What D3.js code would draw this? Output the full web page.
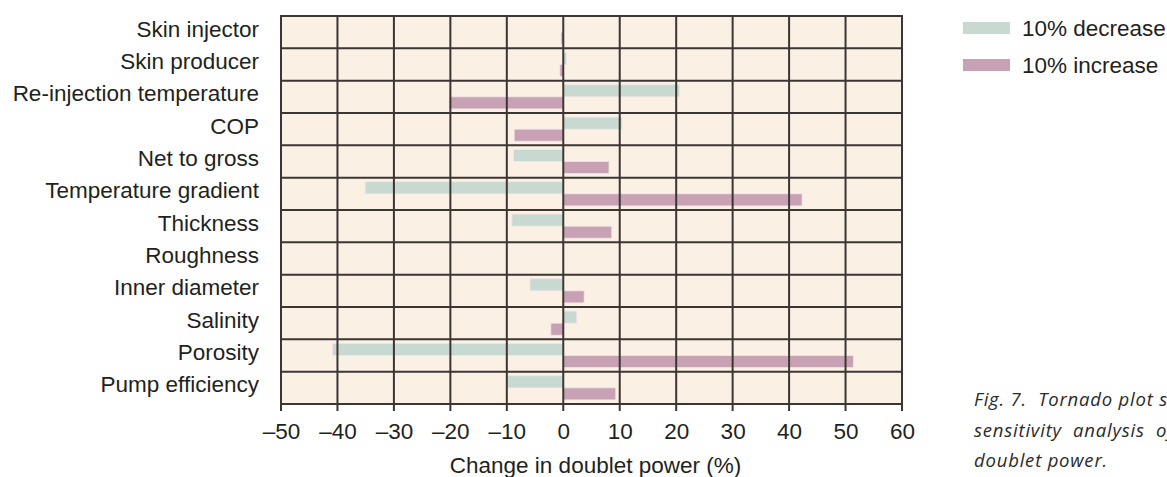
<!DOCTYPE html>
<html>
<head>
<meta charset="utf-8">
<script src="https://cdn.jsdelivr.net/npm/d3@7"></script>
<style>
  html, body { margin: 0; padding: 0; background: #ffffff; overflow: hidden; }
  svg { display: block; }
</style>
</head>
<body>
<svg id="chart" width="1167" height="477"></svg>
<script>
// ---- data ----
const categories = ["Skin injector", "Skin producer", "Re-injection temperature", "COP",
  "Net to gross", "Temperature gradient", "Thickness", "Roughness",
  "Inner diameter", "Salinity", "Porosity", "Pump efficiency"];
const decrease10 = [0, 0.6, 20.6, 10.4, -8.8, -35.1, -9.1, 0, -5.9, 2.4, -40.9, -9.9];
const increase10 = [-0.4, -0.6, -20.2, -8.7, 8.1, 42.3, 8.6, 0, 3.7, -2.2, 51.4, 9.3];
const seriesNames = ["10% decrease", "10% increase"];
const xTicks = [-50, -40, -30, -20, -10, 0, 10, 20, 30, 40, 50, 60];
const captionLines = ["Fig. 7.  Tornado plot showing the", "sensitivity  analysis  of  the", "doublet power."];

// ---- layout ----
const colors = { "10% decrease": "#c8d9d2", "10% increase": "#c9a1b5" };
const plot = { left: 281, right: 902, top: 16, bottom: 404 };
const textColor = "#231f20";
const gridColor = "#3b3634";
const font = "'Liberation Sans', Arial, sans-serif";

const svg = d3.select("#chart");

const x = d3.scaleLinear().domain([-50, 60]).range([plot.left, plot.right]);
const y = d3.scaleBand().domain(categories).range([plot.top, plot.bottom]).padding(0);
const ySub = d3.scaleBand().domain(seriesNames).range([0, y.bandwidth()]).paddingInner(0).paddingOuter(0.34);

// background
svg.append("rect")
  .attr("x", plot.left).attr("y", plot.top)
  .attr("width", plot.right - plot.left).attr("height", plot.bottom - plot.top)
  .attr("fill", "#fbf0e4");

// bars
const rows = categories.map((c, i) => ({ cat: c, vals: [decrease10[i], increase10[i]] }));
const g = svg.append("g");
rows.forEach(r => {
  r.vals.forEach((v, j) => {
    if (v === 0) return;
    const s = seriesNames[j];
    g.append("rect")
      .attr("x", Math.min(x(0), x(v)))
      .attr("y", y(r.cat) + ySub(s))
      .attr("width", Math.abs(x(v) - x(0)))
      .attr("height", ySub.bandwidth())
      .attr("fill", colors[s])
      .attr("stroke", "#f3e4e6")
      .attr("stroke-width", 0.8);
  });
});

// vertical grid lines
svg.append("g").selectAll("line").data(xTicks).join("line")
  .attr("x1", d => x(d)).attr("x2", d => x(d))
  .attr("y1", plot.top).attr("y2", plot.bottom + 7)
  .attr("stroke", gridColor).attr("stroke-width", 2);

// horizontal grid lines (row boundaries)
const rowEdges = categories.map(c => y(c)).concat([plot.bottom]);
svg.append("g").selectAll("line").data(rowEdges).join("line")
  .attr("x1", plot.left - 1).attr("x2", plot.right + 1)
  .attr("y1", d => d).attr("y2", d => d)
  .attr("stroke", gridColor).attr("stroke-width", 2);

// x axis tick labels via d3 axis
const xAxis = d3.axisBottom(x).tickValues(xTicks).tickSize(0).tickPadding(0)
  .tickFormat(d => (d < 0 ? "\u2013" + Math.abs(d) : String(d)));
const ax = svg.append("g").attr("transform", `translate(0, ${plot.bottom})`).call(xAxis);
ax.select(".domain").remove();
ax.selectAll("text")
  .attr("dy", null).attr("y", 35)
  .attr("font-family", font)
  .attr("font-size", 22.5).attr("fill", textColor);

// axis title
svg.append("text")
  .attr("x", (x(-50) + x(60)) / 2 + 4).attr("y", 473)
  .attr("text-anchor", "middle")
  .attr("font-family", font)
  .attr("font-size", 22.5).attr("fill", textColor)
  .text("Change in doublet power (%)");

// category labels
svg.append("g").selectAll("text").data(categories).join("text")
  .attr("x", 259).attr("y", d => y(d) + y.bandwidth() / 2 + 4.5)
  .attr("text-anchor", "end")
  .attr("font-family", font)
  .attr("font-size", 22.5).attr("fill", textColor)
  .text(d => d);

// legend
const leg = svg.append("g");
seriesNames.forEach((s, i) => {
  leg.append("rect").attr("x", 963).attr("y", 22 + i * 37).attr("width", 47).attr("height", 12)
    .attr("fill", colors[s]);
  leg.append("text").attr("x", 1022).attr("y", 36 + i * 37)
    .attr("font-family", font)
    .attr("font-size", 22.5).attr("fill", textColor).text(s);
});

// caption
svg.append("g").selectAll("text").data(captionLines).join("text")
  .attr("x", 974).attr("y", (d, i) => 406 + i * 30.5)
  .attr("font-family", "'Open Sans', 'Noto Sans', sans-serif")
  .attr("font-style", "italic")
  .attr("font-size", 18.5).attr("fill", "#2a2a2a")
  .attr("letter-spacing", 0.8)
  .attr("xml:space", "preserve")
  .style("white-space", "pre")
  .text(d => d);
</script>
</body>
</html>
